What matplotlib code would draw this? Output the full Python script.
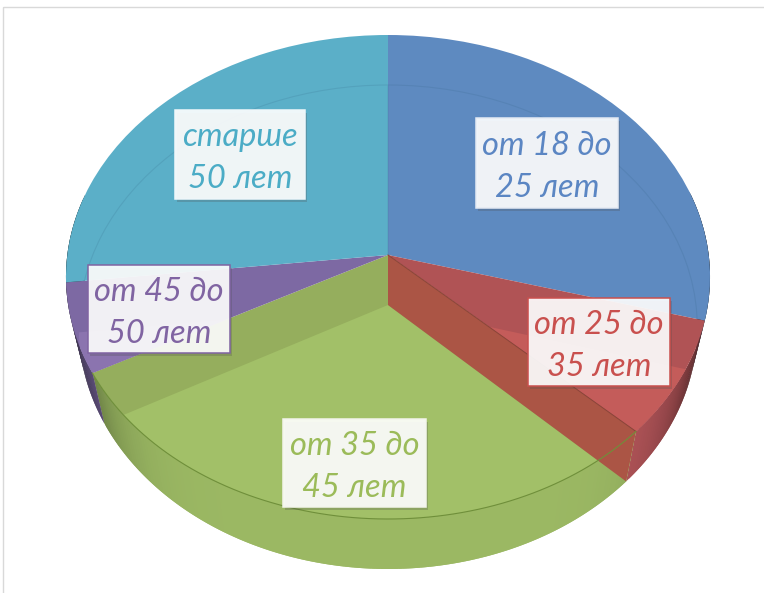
import numpy as np
import matplotlib
matplotlib.use('Agg')
import matplotlib.pyplot as plt
import matplotlib.patheffects as pe
from matplotlib.patches import Rectangle
from matplotlib.transforms import Transform

labels = ['от 18 до\n25 лет', 'от 25 до\n35 лет', 'от 35 до\n45 лет', 'от 45 до\n50 лет', 'старше\n50 лет']
values = [29.3, 7.8, 30.1, 6.0, 26.8]

top_colors = ['#5E8AC0', '#B05355', '#95AE5D', '#7D69A3', '#5BAFC8']
floor_colors = ['#5E8AC0', '#C45C5A', '#A2C068', '#8B74AF', '#5BAFC8']
wall_colors = ['#5E8AC0', '#B5565A', '#9BB863', '#7D69A3', '#5BAFC8']
text_colors = ['#5B86C3', '#C9504E', '#9BBB59', '#8064A2', '#4BACC6']
box_edges = ['#E4EAF3', '#C9504E', '#F3F5EC', '#8064A2', '#F0F7FA']
# label boxes in pixels: left, top, right, bottom
boxes = [(476, 118, 618, 208), (528, 298, 670, 386), (283, 419, 426, 507),
         (88, 265, 230, 353), (175, 110, 305, 199)]

# tilt of the disc, the centre of the circle lands above the centre of the ellipse
CX, A, C = 388, 240.0, 0.0909
TOP = (320.7, 255)
FLOOR = (308.0, 305)


def project(u, v, plane):
    w = 1 + C * v
    return CX + plane[0] * u / w, plane[1] - A * v / w


class Tilt(Transform):
    input_dims = 2
    output_dims = 2
    is_affine = False

    def __init__(self, plane):
        super().__init__()
        self.plane = plane

    def transform_non_affine(self, values):
        x, y = project(values[:, 0], values[:, 1], self.plane)
        return np.column_stack([x, y])


fig = plt.figure(figsize=(7.64, 5.93), dpi=100)
ax = fig.add_axes([0, 0, 1, 1])

top, _ = ax.pie(values, colors=top_colors, startangle=90, counterclock=False)
floor, _ = ax.pie(values, colors=floor_colors, startangle=90, counterclock=False)

# outer wall, cut in thin strips to get the dark edges
for wedge, col in zip(top, wall_colors):
    base = np.array(matplotlib.colors.to_rgb(col))
    steps = max(2, int((wedge.theta2 - wedge.theta1) / 0.75))
    angles = np.radians(np.linspace(wedge.theta1, wedge.theta2, steps))
    for t1, t2 in zip(angles[:-1], angles[1:]):
        if np.sin(t1) > 0.25 and np.sin(t2) > 0.25:
            continue
        # strips overlap a little so no seams show
        t3 = min(t2 + (t2 - t1), angles[-1])
        x1, y1 = project(np.cos(t1), np.sin(t1), TOP)
        x2, y2 = project(np.cos(t3), np.sin(t3), TOP)
        x3, y3 = project(np.cos(t3), np.sin(t3), FLOOR)
        x4, y4 = project(np.cos(t1), np.sin(t1), FLOOR)
        shade = 1 - 0.75 * abs(np.cos((t1 + t2) / 2)) ** 8
        ax.fill([x1, x2, x3, x4], [y1, y2, y3, y4], color=base * shade, lw=0, zorder=1)

for i, (wedge_t, wedge_f) in enumerate(zip(top, floor)):
    wedge_t.set_transform(Tilt(TOP) + ax.transData)
    wedge_t.set_zorder(2)
    wedge_f.set_transform(Tilt(FLOOR) + ax.transData)
    wedge_f.set_zorder(3)
    # floor shows only through the top face, pie turns clipping off
    wedge_f.set_clip_path(wedge_t)
    wedge_f.set_clip_on(True)
    if i in (0, 4):
        # back slices only show the far rim of the floor through them
        wedge_f.set_fill(False)
        wedge_f.set_edgecolor('#2F5F80')
        wedge_f.set_alpha(0.16)
        wedge_f.set_linewidth(0.8)

# inner side between the red and green slices
t = np.radians(top[1].theta1)
xa, ya = project(0.0, 0.0, TOP)
xb, yb = project(np.cos(t), np.sin(t), TOP)
xc, yc = project(np.cos(t), np.sin(t), FLOOR)
xd, yd = project(0.0, 0.0, FLOOR)
ax.fill([xa, xb, xc, xd], [ya, yb, yc, yd], color='#AB5545', lw=0, zorder=4)
ax.plot([xa, xb], [ya, yb], color='#8A4238', lw=0.7, zorder=4)

# rim of the green slice
t = np.radians(np.linspace(top[2].theta1, top[2].theta2, 80))
xr, yr = project(np.cos(t), np.sin(t), TOP)
ax.plot(xr, yr, color='#6F8F3A', lw=0.8, zorder=5)

for text, box, tc, ec in zip(labels, boxes, text_colors, box_edges):
    left, up, right, down = box
    ax.add_patch(Rectangle((left, up), right - left, down - up, facecolor='white', alpha=0.91,
                           edgecolor='none', zorder=6,
                           path_effects=[pe.withSimplePatchShadow(offset=(1.5, -2), alpha=0.25)]))
    ax.add_patch(Rectangle((left, up), right - left, down - up, fill=False, edgecolor=ec, lw=1.1, zorder=6))
    ax.text((left + right) / 2, (up + down) / 2 + 4, text, color=tc, ha='center', va='center',
            family='Lato', style='italic', fontsize=23.5, linespacing=1.5, zorder=7)

# frame of the pasted picture
ax.add_patch(Rectangle((3, 7), 800, 640, fill=False, edgecolor='#D9D9D9', lw=1, zorder=0, clip_on=False))

ax.set_aspect('auto')
ax.set_xlim(0, 764)
ax.set_ylim(593, 0)
ax.axis('off')

fig.savefig('out.png', dpi=100)
